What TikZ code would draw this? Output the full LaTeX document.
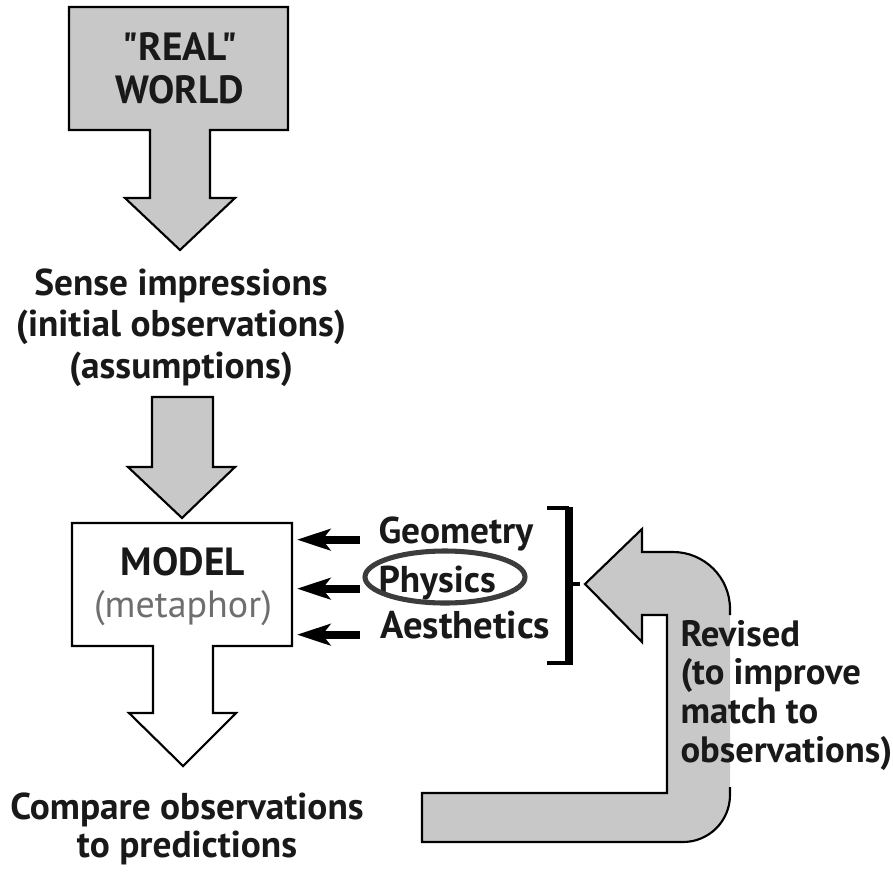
\documentclass[tikz,border=0pt]{standalone}
\usepackage{fontspec}
\setmainfont{PT Sans}
\newfontfamily\plainquote{PT Sans}[Ligatures=TeXOff]
\usetikzlibrary{arrows.meta}

\definecolor{boxgray}{RGB}{200,200,200}
\definecolor{ringgray}{RGB}{60,60,60}
\definecolor{softgray}{RGB}{110,110,110}

\tikzset{every picture/.style={line width=0.75pt}}
\tikzset{
  blockarrow/.style={draw=black, line width=1.6pt, line join=miter},
  lbl/.style={inner sep=0pt, text=black!90, font=\bfseries\fontsize{28}{31}\selectfont},
  feed/.style={line width=6pt, -{Stealth[length=25pt,width=16pt,inset=6pt]}},
}

\begin{document}
\begin{tikzpicture}[x=0.75pt,y=0.75pt,yscale=-1,xscale=1]
\useasboundingbox (0,0) rectangle (893,872);

%Shape: real world box and its arrow
\draw[blockarrow, fill=boxgray] (69,7) -- (288,7) -- (288,130) -- (210,130) -- (210,198) -- (235,198) -- (180,250) -- (125,198) -- (150,198) -- (150,130) -- (69,130) -- cycle ;
%Shape: arrow down to the model
\draw[blockarrow, fill=boxgray] (152,397) -- (213,397) -- (213,467) -- (235,467) -- (182,518) -- (128,467) -- (152,467) -- cycle ;
%Shape: model box and its arrow
\draw[blockarrow, fill=white] (72,523) -- (292,523) -- (292,646) -- (213,646) -- (213,713) -- (236,713) -- (183,766) -- (129,713) -- (153,713) -- (153,646) -- (72,646) -- cycle ;
%Shape: bent arrow back to the model
\fill[boxgray] (585,584) -- (642,529) -- (642,552) -- (673,552) .. controls (704,552) and (730,577) .. (730,609) -- (730,795) .. controls (730,821) and (709,842) .. (683,842) -- (422,842) -- (422,793) -- (667,793) -- (667,615) -- (642,615) -- (642,642) -- cycle ;
\draw[blockarrow] (730,787) -- (730,795) .. controls (730,821) and (709,842) .. (683,842) -- (422,842) -- (422,793) -- (667,793) -- (667,615) -- (642,615) -- (642,642) -- (585,584) -- (642,529) -- (642,552) -- (673,552) .. controls (704,552) and (730,577) .. (730,609) -- (730,615) ;

%Straight Lines: bracket
\draw[line width=3pt] (547,508) -- (569,508) ;
\draw[line width=3pt] (547,663) -- (569,663) ;
\draw[line width=6pt] (569,506.5) -- (569,664.5) ;
\draw[line width=3pt] (569,584) -- (580,584) ;

\coordinate (modelE) at (297,584) ;

% Text Node
\node[lbl, align=center, anchor=base, font=\plainquote\bfseries\fontsize{29.5}{32}\selectfont] (real) at (180,103) {"REAL"\\WORLD};
% Text Node
\node[lbl, align=center, anchor=base] (sense) at (181,378) {Sense impressions\\(initial observations)\\(assumptions)};
% Text Node
\node[lbl, align=center, anchor=base, font=\fontsize{28.5}{31.5}\selectfont] (model) at (183,617) {\textbf{\fontsize{29.5}{31.5}\selectfont MODEL}\\\textcolor{softgray}{(metaphor)}};
% Text Node
\node[lbl, anchor=base west] (geo) at (378,543) {Geometry};
% Text Node
\node[lbl, anchor=base west] (phys) at (378,592) {Physics};
% Text Node
\node[lbl, anchor=base west, font=\bfseries\fontsize{29}{31}\selectfont] (aes) at (380,638) {Aesthetics};
% Text Node
\node[lbl, align=center, anchor=base, font=\bfseries\fontsize{28}{28}\selectfont] (compare) at (187,857) {Compare observations\\to predictions};
% Text Node
\node[lbl, align=left, anchor=base west, font=\bfseries\fontsize{27.5}{29}\selectfont] (revised) at (680,762) {Revised\\(to improve\\match to\\observations)};

%Ellipse round physics
\draw[ringgray, line width=3.8pt] (445,577) ellipse (80 and 26) ;

%Arrows into the model
\draw[feed] ([xshift=-13.5pt]geo.mid west) -- (geo.mid west -| modelE) ;
\draw[feed] ([xshift=-13.5pt]phys.mid west) -- (phys.mid west -| modelE) ;
\draw[feed] ([xshift=-15pt]aes.mid west) -- (aes.mid west -| modelE) ;

\end{tikzpicture}
\end{document}
